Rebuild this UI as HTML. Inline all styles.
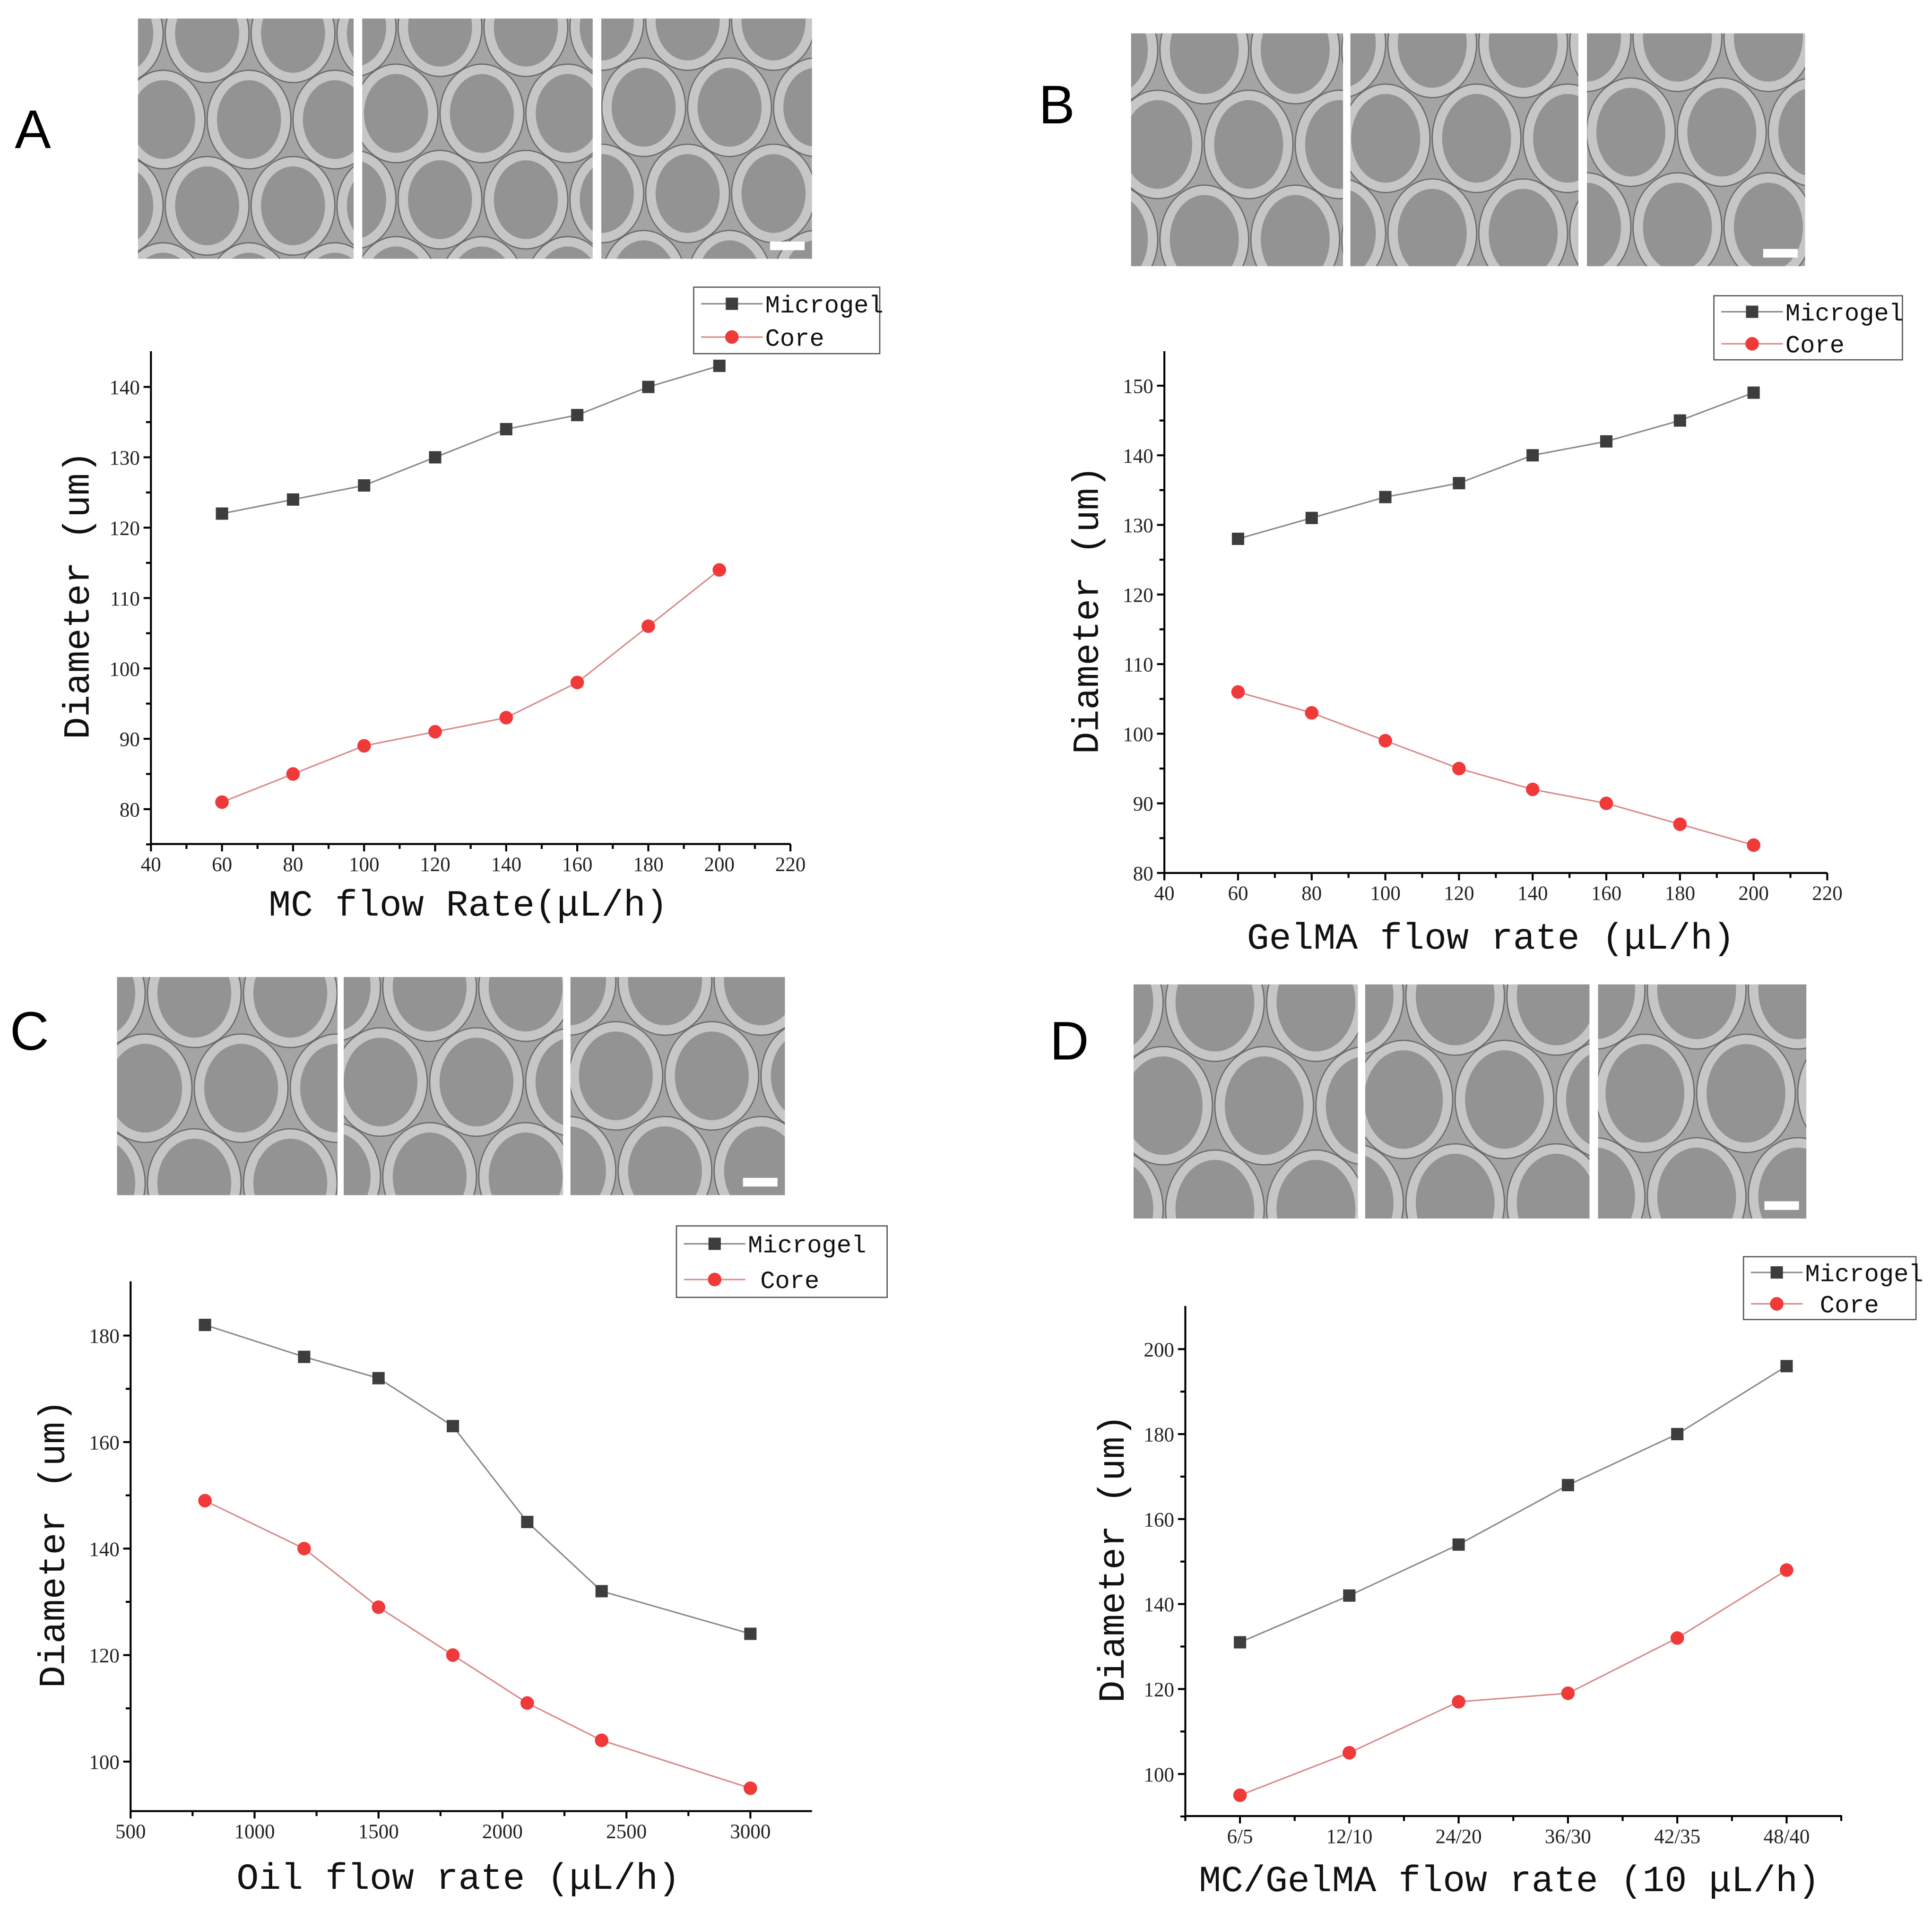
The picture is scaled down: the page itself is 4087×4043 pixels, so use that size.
<!DOCTYPE html>
<html><head><meta charset="utf-8"><style>
html,body{margin:0;padding:0;background:#fff;}
svg{display:block;}
text{font-family:"Liberation Serif","Noto Serif CJK SC",serif;fill:#222;}
.lab{font-family:"Liberation Mono","Noto Sans CJK SC",monospace;fill:#111;}
.pl{font-family:"Liberation Sans",sans-serif;fill:#000;}
</style></head><body>
<svg id="fig" width="4087" height="4043" viewBox="0 0 1568 1551" xmlns="http://www.w3.org/2000/svg">
<rect width="1568" height="1551" fill="#fff"/>
</svg>
<script>
// Panel A data
const aX = [60,80,100,120,140,160,180,200];
const aMicro = [122,124,126,130,134,136,140,143];
const aCore = [81,85,89,91,93,98,106,114];
const aXTicks = [40,60,80,100,120,140,160,180,200,220];
const aYTicks = [80,90,100,110,120,130,140];
// Panel B data
const bX = [60,80,100,120,140,160,180,200];
const bMicro = [128,131,134,136,140,142,145,149];
const bCore = [106,103,99,95,92,90,87,84];
const bXTicks = [40,60,80,100,120,140,160,180,200,220];
const bYTicks = [80,90,100,110,120,130,140,150];
// Panel C data
const cX = [800,1200,1500,1800,2100,2400,3000];
const cMicro = [182,176,172,163,145,132,124];
const cCore = [149,140,129,120,111,104,95];
const cXTicks = [500,1000,1500,2000,2500,3000];
const cYTicks = [100,120,140,160,180];
// Panel D data
const dCats = ["6/5","12/10","24/20","36/30","42/35","48/40"];
const dMicro = [131,142,154,168,180,196];
const dCore = [95,105,117,119,132,148];
const dYTicks = [100,120,140,160,180,200];

const NS="http://www.w3.org/2000/svg";
const svg=document.getElementById('fig');
function mk(tag,attrs,parent,txt){const e=document.createElementNS(NS,tag);for(const k in attrs)e.setAttribute(k,attrs[k]);if(txt!==undefined)e.textContent=txt;(parent||svg).appendChild(e);return e;}

let clipId=0;
function micro(x,y,w,h,rx,ry,ring,seed,panelName){
  const g=mk('g',{});
  
  
  const id='c'+(clipId++);
  const cp=mk('clipPath',{id:id},g);mk('rect',{x:x,y:y,width:w,height:h},cp);
  const inner=mk('g',{'clip-path':'url(#'+id+')'},g);
  mk('rect',{x:x,y:y,width:w,height:h,fill:'#a4a4a4'},inner);
  let row=0;
  for(let cy=y+ry*0.3-seed*5;cy<y+h+ry;cy+=ry*1.75,row++){
    for(let cx=x-rx*0.4+(row%2)*rx*1.0+seed*7;cx<x+w+rx;cx+=rx*2.05){
      mk('ellipse',{cx:cx,cy:cy,rx:rx,ry:ry,fill:'#c6c6c6',stroke:'#6a6a6a','stroke-width':1},inner);
      mk('ellipse',{cx:cx,cy:cy,rx:rx-ring,ry:ry-ring,fill:'#939393'},inner);
    }
  }
  return g;
}

function panel(o){
  const g=mk('g',{});
  
  
  const t=mk('text',{x:o.letter[0],y:o.letter[1],'font-size':44,class:'pl'},g,o.letterText);
  
  
  o.imgs.forEach((r,i)=>{const m=micro(r[0],r[1],r[2],r[3],o.er[0],o.er[1],o.er[2],i,'micrograph-'+(i+1));g.appendChild(m);});
  const last=o.imgs[2];
  mk('rect',{x:last[0]+last[2]-34,y:last[1]+last[3]-14,width:28,height:7,fill:'#fff'},g);
  const X=v=>o.x0+(v-o.xmin)/(o.xmax-o.xmin)*(o.x1-o.x0);
  const Y=v=>o.y0-(v-o.ymin)/(o.ymax-o.ymin)*(o.y0-o.y1);
  const ax=mk('g',{stroke:'#000','stroke-width':1.6,fill:'none'},g);
  
  
  mk('line',{x1:o.x0,y1:o.top,x2:o.x0,y2:o.y0},ax);
  mk('line',{x1:o.x0,y1:o.y0,x2:o.right,y2:o.y0},ax);
  const yStep=o.yTicks[1]-o.yTicks[0];
  for(let v=o.yTicks[0]-yStep;v<=o.ymax;v+=yStep/2){
    const yy=Y(v); if(yy>o.y0+0.5||yy<o.top)continue;
    const major=o.yTicks.includes(v);
    mk('line',{x1:o.x0-(major?6:4),y1:yy,x2:o.x0,y2:yy},ax);
  }
  o.yTicks.forEach(v=>{const tt=mk('text',{x:o.x0-9,y:Y(v)+6,'font-size':16.5,'text-anchor':'end'},g,v);
    
    });
  o.xMajor.forEach((v,i)=>{const xx=X(v);mk('line',{x1:xx,y1:o.y0,x2:xx,y2:o.y0+6},ax);
    const tt=mk('text',{x:xx,y:o.y0+22,'font-size':16.5,'text-anchor':'middle'},g,o.xLabels[i]);
    
    });
  o.xMinor.forEach(v=>{const xx=X(v);if(xx<=o.right)mk('line',{x1:xx,y1:o.y0,x2:xx,y2:o.y0+4},ax);});
  const xt=mk('text',{x:o.xt[0],y:o.xt[1],'font-size':30,'text-anchor':'middle',class:'lab'},g,o.xTitle);
  
  
  const yt=mk('text',{x:0,y:0,'font-size':30,'text-anchor':'middle',class:'lab',transform:'translate('+o.yt[0]+','+o.yt[1]+') rotate(-90)'},g,'Diameter (um)');
  
  
  const series=[{v:o.micro,c:'#8a8a8a',m:'#3d3d3d',sq:true,n:'microgel-series'},{v:o.core,c:'#d98a8a',m:'#f03a3a',sq:false,n:'core-series'}];
  series.forEach(s=>{
    const sg=mk('g',{},g);
    
    
    const pts=s.v.map((v,i)=>X(o.xs[i])+','+Y(v)).join(' ');
    mk('polyline',{points:pts,fill:'none',stroke:s.c,'stroke-width':1.2},sg);
    s.v.forEach((v,i)=>{
      let p;
      if(s.sq){p=mk('rect',{x:X(o.xs[i])-5,y:Y(v)-5,width:10,height:10,fill:s.m},sg);}
      else{p=mk('circle',{cx:X(o.xs[i]),cy:Y(v),r:5.5,fill:s.m},sg);}
      
      
    });
  });
  const L=o.leg;const lg=mk('g',{},g);
  
  
  mk('rect',{x:L[0],y:L[1],width:L[2]-L[0],height:L[3]-L[1],fill:'#fff',stroke:'#555','stroke-width':1},lg);
  const rh=(L[3]-L[1])/2;const lx=L[0]+6,lw=o.legLine;
  [[series[0],'Microgel'],[series[1],'Core']].forEach(([s,name],i)=>{
    const cy=L[1]+rh*(i+0.5);
    mk('line',{x1:lx,y1:cy,x2:lx+lw,y2:cy,stroke:s.c,'stroke-width':1.2},lg);
    if(s.sq)mk('rect',{x:lx+lw/2-5,y:cy-5,width:10,height:10,fill:s.m},lg);
    else mk('circle',{cx:lx+lw/2,cy:cy,r:5.5,fill:s.m},lg);
    const e=mk('text',{x:lx+lw+(i?o.coreOff:2),y:cy+7,'font-size':20,class:'lab'},lg,name);
    
    
  });
}

function rng(a,b,s){const r=[];for(let v=a;v<=b+1e-9;v+=s)r.push(v);return r;}

panel({name:'panel-a',letterText:'A',letter:[12,120],imgs:[[112,15,175,195],[294,15,187,195],[488,15,171,195]],er:[34,40,8],
  x0:122.5,x1:641.5,xmin:40,xmax:220,y0:685,y1:314,ymin:75.05,ymax:140,top:285,right:641.5,
  xs:aX,micro:aMicro,core:aCore,yTicks:aYTicks,xMajor:aXTicks,xLabels:aXTicks,xMinor:rng(50,210,20),
  xt:[380,743],xTitle:'MC flow Rate(μL/h)',yt:[72,483],leg:[563,233,714,287],legLine:50,coreOff:2});
panel({name:'panel-b',letterText:'B',letter:[843,100],imgs:[[918,27,172,189],[1096,27,185,189],[1288,27,177,189]],er:[36,44,8],
  x0:945,x1:1483,xmin:40,xmax:220,y0:708.5,y1:313,ymin:80,ymax:150,top:285,right:1483,
  xs:bX,micro:bMicro,core:bCore,yTicks:bYTicks,xMajor:bXTicks,xLabels:bXTicks,xMinor:rng(50,210,20),
  xt:[1210,770],xTitle:'GelMA flow rate (μL/h)',yt:[891,495],leg:[1391,240,1544,292],legLine:50,coreOff:2});
panel({name:'panel-c',letterText:'C',letter:[8,852],imgs:[[95,793,179,177],[279,793,178,177],[463,793,174,177]],er:[38,44,8],
  x0:106,x1:609,xmin:500,xmax:3000,y0:1470,y1:1084,ymin:90.7,ymax:180,top:1040,right:659,
  xs:cX,micro:cMicro,core:cCore,yTicks:cYTicks,xMajor:cXTicks,xLabels:cXTicks,xMinor:rng(750,3250,500),
  xt:[372,1533],xTitle:'Oil flow rate (μL/h)',yt:[52,1253],leg:[549,995,720,1053],legLine:50,coreOff:12});
const dIdx=dCats.map((c,i)=>i);
panel({name:'panel-d',letterText:'D',letter:[852,860],imgs:[[920,799,182,190],[1108,799,182,190],[1297,799,169,190]],er:[40,48,8],
  x0:962,x1:1450,xmin:-0.5,xmax:5,y0:1474,y1:1095,ymin:90.1,ymax:200,top:1060,right:1495,
  xs:dIdx,micro:dMicro,core:dCore,yTicks:dYTicks,xMajor:dIdx,xLabels:dCats,xMinor:[-0.5,0.5,1.5,2.5,3.5,4.5,5.5],
  xt:[1225,1535],xTitle:'MC/GelMA flow rate (10 μL/h)',yt:[912,1265],leg:[1415,1020,1555,1071],legLine:42,coreOff:14});
</script>
</body></html>
